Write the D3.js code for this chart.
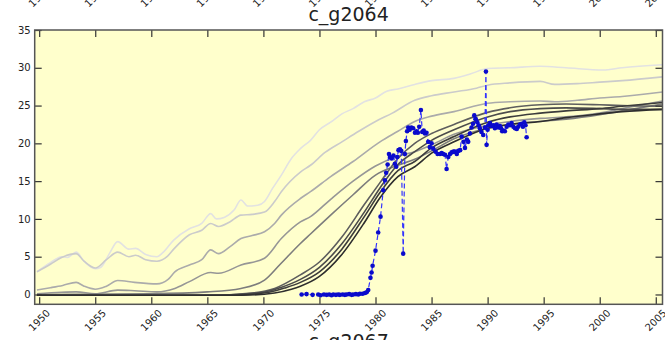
<!DOCTYPE html>
<html>
<head>
<meta charset="utf-8">
<script src="https://cdn.jsdelivr.net/npm/d3@7"></script>
<style>
  body { margin: 0; background: #fff; }
  text { font-family: "DejaVu Sans", sans-serif; fill: #222; }
</style>
</head>
<body>
<div id="chart"></div>
<script>
// chart titles
var title = "c_g2064";
var nextTitle = "c_g2067";

// x tick labels (years) and y tick labels
var xTicks = [1950, 1955, 1960, 1965, 1970, 1975, 1980, 1985, 1990, 1995, 2000, 2005];
var yTicks = [0, 5, 10, 15, 20, 25, 30, 35];

// gray reference curves, lightest to darkest: [year, value]
var grey1 = [[1949.8,3.0],[1951,4.2],[1952,5.0],[1952.5,4.9],[1953.3,5.6],[1954,4.4],[1955,3.4],[1955.5,3.6],[1956.3,5.5],[1957,7.0],[1958,6.0],[1958.6,6.1],[1959.5,5.3],[1960.5,5.0],[1961,5.5],[1962,7.2],[1963.4,8.7],[1964.5,9.4],[1965.3,10.7],[1965.8,10.0],[1966.5,10.2],[1967.4,11.2],[1968,12.5],[1968.6,11.7],[1969.5,11.8],[1970.1,12.3],[1970.8,14.0],[1971.6,15.8],[1972.5,18.0],[1973.3,19.3],[1974.2,20.4],[1975,21.8],[1976,22.8],[1977,23.9],[1978,24.6],[1979,25.5],[1980,26.0],[1981,26.9],[1982,27.2],[1983.5,27.8],[1985,28.3],[1987,28.6],[1988.5,29.2],[1990,29.9],[1992,30.0],[1994.7,30.2],[1997,30.0],[2000.3,29.7],[2002,30.0],[2005.6,30.4]];
var grey2 = [[1949.8,3.0],[1951,4.0],[1952,4.9],[1953.3,5.4],[1954,4.4],[1955,3.5],[1956,4.6],[1957,5.6],[1958,5.0],[1958.6,5.2],[1959.5,4.6],[1960.5,4.4],[1961.4,5.0],[1962,6.0],[1963.4,7.9],[1964.5,8.5],[1965.3,9.4],[1966,9.0],[1967,9.6],[1968,10.5],[1969,10.6],[1970.1,10.9],[1971,12.3],[1971.6,13.6],[1973.3,16.2],[1974.2,17.1],[1975.5,18.8],[1977,20.2],[1978.5,21.6],[1980,22.9],[1981.5,24.0],[1983.5,25.7],[1985,26.3],[1987,26.8],[1989,27.3],[1990,27.7],[1992,28.0],[1994.7,28.2],[1996,27.8],[1998,27.9],[2000,28.1],[2002,28.3],[2005.6,28.8]];
var grey3 = [[1949.8,0.6],[1951,0.9],[1952.1,1.2],[1953.3,1.6],[1954,1.1],[1955,0.7],[1956,1.1],[1957,1.85],[1958.5,1.6],[1960.5,1.4],[1961.5,2.0],[1962.1,3.0],[1963.4,3.9],[1964.5,4.6],[1965.3,5.9],[1966,5.4],[1967,6.3],[1968,7.4],[1969,7.8],[1970.1,8.3],[1971,9.4],[1971.6,10.5],[1973.3,12.7],[1974.2,13.6],[1976,15.6],[1978,17.6],[1980.4,20.2],[1982,21.6],[1983.5,22.9],[1985,23.6],[1987,24.2],[1990,25.3],[1992,25.5],[1994.7,25.6],[1996,25.5],[1998,25.7],[2000,26.0],[2002,26.2],[2005.6,26.8]];
var grey4 = [[1949.8,0.1],[1952,0.3],[1953.3,0.35],[1955,0.1],[1957,0.57],[1958.5,0.5],[1960.5,0.35],[1962.1,0.8],[1963.4,1.7],[1965.3,2.9],[1966,2.8],[1968,3.9],[1970.1,4.8],[1971.6,7.4],[1973.3,9.6],[1974.2,10.3],[1976,12.6],[1978,15.0],[1980,17.0],[1982,18.3],[1983.5,18.9],[1985,19.8],[1987,21.2],[1990,22.4],[1992,22.9],[1994.7,23.3],[1997,23.5],[2000,24.0],[2002,24.6],[2005.6,25.6]];
var grey5 = [[1949.8,0],[1960,0.1],[1965,0.35],[1968,0.8],[1970.1,1.9],[1971.5,4.0],[1973.3,6.75],[1974.2,8.0],[1976,10.5],[1978,13.2],[1980,15.8],[1982,17.1],[1983.5,17.9],[1985,19.0],[1987,20.6],[1990,22.0],[1992,22.5],[1994.7,22.9],[1997,23.2],[2000,23.8],[2002,24.3],[2005.6,25.2]];
var dark1 = [[1949.8,-0.1],[1965,-0.1],[1969,0.2],[1971,0.8],[1973.3,2.6],[1975,4.3],[1977,7.6],[1979,11.9],[1980.4,14.8],[1982,18.0],[1983.5,20.0],[1985,21.3],[1987,22.5],[1990,24.1],[1992,24.7],[1994.7,25.1],[1997,25.2],[2000,25.1],[2002,25.0],[2005.6,24.9]];
var dark2 = [[1949.8,-0.1],[1966,-0.1],[1970,0.3],[1971.5,0.9],[1973.3,2.0],[1975,3.6],[1977,6.7],[1979,10.9],[1980.4,14.1],[1982,17.2],[1983.5,18.9],[1985,20.4],[1987,21.8],[1990,23.5],[1992,24.2],[1994.7,24.6],[1997,24.7],[2000,24.6],[2002,24.5],[2005.6,24.5]];
var dark3 = [[1949.8,-0.1],[1967,-0.1],[1970.5,0.3],[1972,0.9],[1973.3,1.6],[1975,3.0],[1977,6.0],[1979,10.3],[1980.4,13.5],[1982,16.4],[1983.5,17.6],[1985,19.4],[1987,20.9],[1990,22.8],[1992,23.5],[1994.7,24.0],[1997,24.3],[2000,24.6],[2002,24.9],[2005.6,25.4]];
var dark4 = [[1949.8,-0.1],[1968,-0.1],[1971,0.2],[1972.5,0.7],[1973.3,1.1],[1975,2.4],[1977,5.3],[1979,9.5],[1980.4,12.8],[1982,15.6],[1983.5,16.9],[1985,18.7],[1987,20.2],[1990,22.0],[1992,22.5],[1994.7,22.9],[1997,23.4],[2000,23.9],[2002,24.2],[2005.6,24.5]];

var greyColors = ["#e2e2e2", "#cbcbcb", "#ababab", "#969696", "#7d7d7d", "#5e5e5e", "#4c4c4c", "#3c3c3c", "#2e2e2e"];

// observed series (blue)
var blueYears = [1973.41,1973.85,1974.39,1974.89,1975.10,1975.40,1975.64,1975.87,1976.08,1976.23,1976.47,1976.67,1976.82,1977.07,1977.27,1977.42,1977.65,1977.87,1978.01,1978.25,1978.46,1978.61,1978.85,1979.06,1979.21,1979.35,
  1979.55,1979.65,1979.74,1980.0,1980.24,1980.45,1980.69,1980.84,1980.95,1981.08,1981.2,1981.29,1981.44,1981.6,1981.73,1981.85,1981.94,1982.05,1982.18,1982.3,1982.47,1982.62,1982.71,1982.82,1982.92,1983.05,1983.2,1983.36,
  1983.52,1983.65,1983.78,1983.9,1984.05,1984.17,1984.3,1984.41,1984.55,1984.7,1984.85,1985.0,1985.15,1985.36,1985.54,1985.75,1985.9,1986.04,1986.2,1986.34,1986.49,1986.65,1986.79,1986.95,1987.08,1987.25,1987.38,1987.55,
  1987.68,1987.85,1987.98,1988.15,1988.27,1988.42,1988.57,1988.7,1988.81,1988.95,1989.08,1989.2,1989.31,1989.45,1989.61,1989.76,1989.85,1989.91,1990.0,1990.06,1990.21,1990.35,1990.5,1990.65,1990.8,1990.95,1991.1,1991.2,
  1991.3,1991.42,1991.54,1991.7,1991.84,1992.0,1992.14,1992.3,1992.44,1992.6,1992.73,1992.88,1993.03,1993.15,1993.27,1993.38,1993.48];
var blueValues = [0.0,0.05,-0.05,0.0,-0.1,0.0,-0.05,0.0,-0.1,0.0,-0.05,0.0,-0.05,0.0,-0.05,0.0,0.05,-0.05,0.0,0.05,0.0,0.1,0.1,0.2,0.3,0.6,
  2.2,2.9,3.8,5.8,8.2,10.3,13.8,15.1,16.1,17.2,18.6,18.2,18.0,18.4,17.3,16.9,18.2,19.1,19.2,19.0,5.4,18.6,20.3,21.6,22.1,21.8,22.1,22.0,
  21.4,21.6,21.4,22.2,24.4,21.5,21.7,21.3,21.4,20.2,19.5,20.0,19.3,18.9,18.6,18.6,18.7,18.6,18.5,16.6,18.2,18.6,18.8,18.9,18.9,18.6,19.0,19.1,
  20.9,20.2,19.4,20.5,20.2,21.3,22.1,22.6,23.7,23.2,22.8,22.4,22.0,21.5,21.1,22.1,29.5,19.8,21.8,22.4,22.7,22.3,22.4,22.0,22.5,22.1,22.3,22.0,
  21.6,21.7,21.6,22.2,22.5,22.4,22.7,22.2,22.0,21.9,22.2,22.5,22.6,22.2,22.8,22.4,20.8];

var svgWidth = 665;
var svgHeight = 340;

// plot box edges
var plot = { left: 34.7, right: 662.5, top: 30, bottom: 304.3 };
var repeatGap = 324; // vertical distance to neighbouring panels

var svg = d3.select("#chart")
  .append("svg")
  .attr("width", svgWidth)
  .attr("height", svgHeight);

var x = d3.scaleLinear()
  .domain([1949.6, 2005.6])
  .range([plot.left, plot.right]);

var y = d3.scaleLinear()
  .domain([-1.3, 35])
  .range([plot.bottom, plot.top]);

// plot background
svg.append("rect")
  .attr("x", plot.left)
  .attr("y", plot.top)
  .attr("width", plot.right - plot.left)
  .attr("height", plot.bottom - plot.top)
  .attr("fill", "#ffffcc");

svg.append("clipPath")
  .attr("id", "clip")
  .append("rect")
  .attr("x", plot.left)
  .attr("y", plot.top)
  .attr("width", plot.right - plot.left)
  .attr("height", plot.bottom - plot.top);

var lines = svg.append("g").attr("clip-path", "url(#clip)");

// smooth curves for the reference runs, straight segments for the observations
var smoothLine = d3.line()
  .curve(d3.curveMonotoneX)
  .x(d => x(d[0]))
  .y(d => y(d[1]));

var line = d3.line()
  .x(d => x(d[0]))
  .y(d => y(d[1]));

var greys = [grey1, grey2, grey3, grey4, grey5, dark1, dark2, dark3, dark4];

lines.selectAll(".grey")
  .data(greys)
  .enter()
  .append("path")
  .attr("class", "grey")
  .attr("d", smoothLine)
  .attr("fill", "none")
  .attr("stroke", (d, i) => greyColors[i])
  .attr("stroke-width", 1.6)
  .attr("stroke-linejoin", "round");

// blue observations
var blue = blueYears.map((yr, i) => [yr, blueValues[i]]);

lines.append("path")
  .datum(blue)
  .attr("d", line)
  .attr("fill", "none")
  .attr("stroke", "#3333ff")
  .attr("stroke-width", 1.2)
  .attr("stroke-dasharray", "5,3");

lines.selectAll(".dot")
  .data(blue)
  .enter()
  .append("circle")
  .attr("class", "dot")
  .attr("cx", d => x(d[0]))
  .attr("cy", d => y(d[1]))
  .attr("r", 2.3)
  .attr("fill", "#0a0acc");

// axes, ticks pointing inward on all four sides
var tickLen = 7;

svg.append("g")
  .attr("transform", `translate(0, ${plot.bottom})`)
  .call(d3.axisBottom(x).tickValues(xTicks).tickSize(-tickLen).tickFormat(""));

svg.append("g")
  .attr("transform", `translate(0, ${plot.top})`)
  .call(d3.axisTop(x).tickValues(xTicks).tickSize(-tickLen).tickFormat(""));

var leftAxis = svg.append("g")
  .attr("transform", `translate(${plot.left}, 0)`)
  .call(d3.axisLeft(y).tickValues(yTicks).tickSize(-tickLen).tickPadding(4));

svg.append("g")
  .attr("transform", `translate(${plot.right}, 0)`)
  .call(d3.axisRight(y).tickValues(yTicks).tickSize(-tickLen).tickFormat(""));

svg.selectAll(".domain").remove();
svg.selectAll(".tick line").attr("stroke", "#333").attr("stroke-width", 1.2);

leftAxis.selectAll("text")
  .style("font-family", "DejaVu Sans")
  .style("font-size", "10px")
  .attr("fill", "#222");

// frame
svg.append("rect")
  .attr("x", plot.left)
  .attr("y", plot.top)
  .attr("width", plot.right - plot.left)
  .attr("height", plot.bottom - plot.top)
  .attr("fill", "none")
  .attr("stroke", "#555")
  .attr("stroke-width", 1.5);

// rotated year labels, for this panel and the bottom of the panel above
function yearLabels(offset) {
  svg.append("g")
    .selectAll("text")
    .data(xTicks)
    .enter()
    .append("text")
    .attr("transform", d => `translate(${x(d)}, ${plot.bottom + 16 + offset}) rotate(-45)`)
    .attr("text-anchor", "middle")
    .attr("dominant-baseline", "central")
    .style("font-size", "10px")
    .text(d => d);
}
yearLabels(0);
yearLabels(-repeatGap);

// titles
var midX = (plot.left + plot.right) / 2;
svg.append("text")
  .attr("x", midX)
  .attr("y", 21)
  .attr("text-anchor", "middle")
  .style("font-size", "19px")
  .text(title);

svg.append("text")
  .attr("x", midX)
  .attr("y", 24 + repeatGap)
  .attr("text-anchor", "middle")
  .style("font-size", "19px")
  .text(nextTitle);
</script>
</body>
</html>
